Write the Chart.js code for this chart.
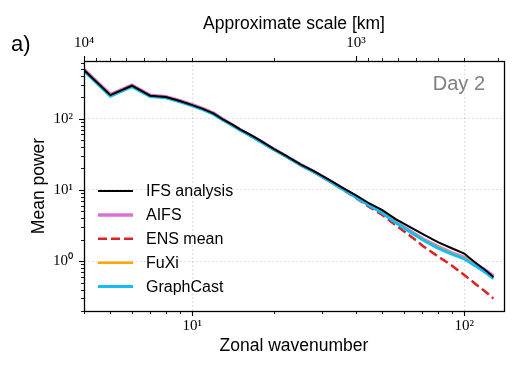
<!DOCTYPE html>
<html>
<head>
<meta charset="utf-8">
<script src="https://cdn.jsdelivr.net/npm/chart.js@4.4.0/dist/chart.umd.min.js"></script>
<style>
  html, body { margin: 0; padding: 0; background: #fff; }
  #wrap { width: 524px; height: 370px; }
</style>
</head>
<body>
<div id="wrap"><canvas id="spectrumChart" width="524" height="370"></canvas></div>
<script>
// Zonal wavenumbers
const wavenumbers = [4, 5, 6, 7, 8, 9, 10, 11, 12, 13, 14, 15, 16, 17, 18, 20, 22, 25, 28, 32, 36, 40, 45, 50, 56, 63, 71, 80, 90, 100, 110, 120, 128];

// Mean power per model (day 2)
const ifsAnalysis = [482, 214, 290, 210, 201, 177, 155, 136, 118, 97, 83, 71, 62, 54.5, 48, 37.4, 30.5, 22.9, 18.4, 13.7, 10.5, 8.4, 6.4, 5.2, 3.9, 3.03, 2.36, 1.85, 1.52, 1.28, 0.95, 0.74, 0.60];
const aifs = [490, 218, 295, 213, 204, 179, 157, 137, 119, 97, 82, 70, 61, 54, 47.5, 37.1, 30.1, 22.7, 18.1, 13.5, 10.3, 8.1, 6.05, 4.85, 3.55, 2.68, 2.02, 1.6, 1.31, 1.13, 0.91, 0.74, 0.62];
const ensMean = [480, 213, 289, 209, 200, 176, 154, 135, 117, 96, 82, 70, 61, 53.5, 47, 36.9, 29.9, 22.3, 17.8, 13.2, 9.9, 7.7, 5.7, 4.45, 3.2, 2.3, 1.6, 1.17, 0.87, 0.64, 0.48, 0.37, 0.30];
const fuxi = [478, 212, 288, 208, 199, 175, 153, 135, 117, 96, 82, 70, 61, 53.5, 47, 37, 30, 22.5, 18, 13.4, 10.2, 8.0, 6.0, 4.8, 3.5, 2.65, 2.0, 1.57, 1.29, 1.11, 0.89, 0.71, 0.59];
const graphCast = [468, 207, 282, 204, 196, 172, 151, 133, 115, 95, 81, 69, 60.5, 53, 46.5, 36.7, 29.9, 22.4, 17.9, 13.3, 10.1, 7.9, 5.95, 4.75, 3.45, 2.6, 1.95, 1.53, 1.26, 1.08, 0.86, 0.69, 0.57];

// Tick labels
const bottomTicks = [10, 100];
const bottomTickLabels = ['10¹', '10²'];
const leftTicks = [1, 10, 100];
const leftTickLabels = ['10⁰', '10¹', '10²'];
const scaleTicksKm = [10000, 1000];
const scaleTickLabels = ['10⁴', '10³'];
const scaleMinorKm = [9000, 8000, 7000, 6000, 5000, 4000, 3000, 2000, 900, 800, 700, 600, 500, 400, 300];
const bottomMinor = [4, 5, 6, 7, 8, 9, 20, 30, 40, 50, 60, 70, 80, 90];
const leftMinor = [0.2, 0.3, 0.4, 0.5, 0.6, 0.7, 0.8, 0.9, 2, 3, 4, 5, 6, 7, 8, 9, 20, 30, 40, 50, 60, 70, 80, 90, 200, 300, 400, 500, 600];
const earthCircumferenceKm = 40000;

const seriesStyles = [
  { label: 'IFS analysis', values: ifsAnalysis, color: '#000000', width: 2, dash: [], order: 0 },
  { label: 'AIFS', values: aifs, color: '#DA70D6', width: 3.5, dash: [], order: 4 },
  { label: 'ENS mean', values: ensMean, color: '#DD2222', width: 2.5, dash: [9, 4], order: 3 },
  { label: 'FuXi', values: fuxi, color: '#FFA500', width: 2.5, dash: [], order: 2 },
  { label: 'GraphCast', values: graphCast, color: '#12BEF5', width: 3, dash: [], order: 1 },
];

const tickFont = { family: 'Liberation Serif', size: 15 };
const titleFont = { family: 'Liberation Sans', size: 17.5 };
const gridColor = 'rgba(0,0,0,0.12)';

function crisp(v) { return Math.round(v) + 0.5; }

// only the decade ticks get a grid line
function decadeGrid(list) {
  return ctx => (ctx.tick && list.includes(ctx.tick.value)) ? gridColor : 'rgba(0,0,0,0)';
}

// Legend inside the axes, no frame
const insideLegend = {
  id: 'insideLegend',
  afterDatasetsDraw(chart) {
    const ctx = chart.ctx;
    const left = chart.chartArea.left;
    ctx.save();
    ctx.font = '16px "Liberation Sans"';
    ctx.textBaseline = 'middle';
    seriesStyles.forEach((s, i) => {
      const yy = 191 + i * 23.9;
      ctx.strokeStyle = s.color;
      ctx.lineWidth = s.width;
      ctx.setLineDash(s.dash);
      ctx.beginPath();
      ctx.moveTo(left + 14, yy);
      ctx.lineTo(left + 49, yy);
      ctx.stroke();
      ctx.setLineDash([]);
      ctx.fillStyle = '#000';
      ctx.fillText(s.label, left + 62, yy + 1);
    });
    ctx.restore();
  }
};

// Frame, log minor/major ticks and annotations
const frameAndTicks = {
  id: 'frameAndTicks',
  afterDraw(chart) {
    const ctx = chart.ctx;
    const { left, right, top, bottom } = chart.chartArea;
    const xs = chart.scales.x, ys = chart.scales.y;
    ctx.save();
    ctx.strokeStyle = '#000';
    const tick = (x1, y1, x2, y2, w) => {
      ctx.lineWidth = w;
      ctx.beginPath();
      ctx.moveTo(x1, y1);
      ctx.lineTo(x2, y2);
      ctx.stroke();
    };
    bottomMinor.forEach(v => { const p = crisp(xs.getPixelForValue(v)); tick(p, bottom, p, bottom + 3, 0.9); });
    bottomTicks.forEach(v => { const p = crisp(xs.getPixelForValue(v)); tick(p, bottom, p, bottom + 5, 1.1); });
    leftMinor.forEach(v => { const p = crisp(ys.getPixelForValue(v)); tick(left, p, left - 3, p, 0.9); });
    leftTicks.forEach(v => { const p = crisp(ys.getPixelForValue(v)); tick(left, p, left - 5, p, 1.1); });
    scaleMinorKm.forEach(km => { const p = crisp(xs.getPixelForValue(earthCircumferenceKm / km)); tick(p, top, p, top - 3, 0.9); });
    scaleTicksKm.forEach(km => { const p = crisp(xs.getPixelForValue(earthCircumferenceKm / km)); tick(p, top, p, top - 5, 1.1); });
    ctx.lineWidth = 1.3;
    ctx.strokeRect(crisp(left), crisp(top), Math.round(right - left), Math.round(bottom - top));

    ctx.fillStyle = '#808080';
    ctx.font = '20px "Liberation Sans"';
    ctx.textAlign = 'right';
    ctx.textBaseline = 'alphabetic';
    ctx.fillText('Day 2', 485, 90);
    ctx.fillStyle = '#000';
    ctx.textAlign = 'left';
    ctx.font = '22px "Liberation Sans"';
    ctx.fillText('a)', 11, 51);
    ctx.restore();
  }
};

new Chart(document.getElementById('spectrumChart'), {
  type: 'line',
  data: {
    datasets: seriesStyles.map(s => ({
      label: s.label,
      data: wavenumbers.map((k, i) => ({ x: k, y: s.values[i] })),
      borderColor: s.color,
      backgroundColor: s.color,
      borderWidth: s.width,
      borderDash: s.dash,
      pointRadius: 0,
      tension: 0,
      order: s.order,
    }))
  },
  options: {
    responsive: false,
    animation: false,
    devicePixelRatio: 1,
    layout: { padding: { left: 0, right: 20, top: 0, bottom: 0 } },
    plugins: { legend: { display: false }, tooltip: { enabled: false } },
    scales: {
      x: {
        type: 'logarithmic',
        position: 'bottom',
        min: 4,
        max: 140,
        afterBuildTicks: s => { s.ticks = bottomTicks.map(v => ({ value: v })); },
        afterFit: s => { s.height = 59; },
        ticks: { callback: (v, i) => bottomTickLabels[i], font: tickFont, color: '#000', padding: 6, maxRotation: 0, autoSkip: false },
        grid: { color: decadeGrid(bottomTicks), lineWidth: 1, drawTicks: false },
        border: { display: false, dash: [2, 2] },
        title: { display: true, text: 'Zonal wavenumber', font: titleFont, color: '#000', padding: { top: 0, bottom: 13 } }
      },
      x2: {
        type: 'logarithmic',
        position: 'top',
        min: 4,
        max: 140,
        afterBuildTicks: s => { s.ticks = scaleTicksKm.map(km => ({ value: earthCircumferenceKm / km })); },
        afterFit: s => { s.height = 61; },
        ticks: { callback: (v, i) => scaleTickLabels[i], font: tickFont, color: '#000', padding: 1, maxRotation: 0, autoSkip: false },
        grid: { display: false },
        border: { display: false },
        title: { display: true, text: 'Approximate scale [km]', font: titleFont, color: '#000', padding: { top: 14, bottom: 0 } }
      },
      y: {
        type: 'logarithmic',
        min: 0.2,
        max: 645,
        afterBuildTicks: s => { s.ticks = leftTicks.map(v => ({ value: v })); },
        afterFit: s => { s.width = 84; },
        ticks: { callback: (v, i) => leftTickLabels[i], font: tickFont, color: '#000', padding: 11, autoSkip: false },
        grid: { color: decadeGrid(leftTicks), lineWidth: 1, drawTicks: false },
        border: { display: false, dash: [2, 2] },
        title: { display: true, text: 'Mean power', font: titleFont, color: '#000', padding: { top: 29, bottom: 0 } }
      }
    }
  },
  plugins: [insideLegend, frameAndTicks]
});
</script>
</body>
</html>
